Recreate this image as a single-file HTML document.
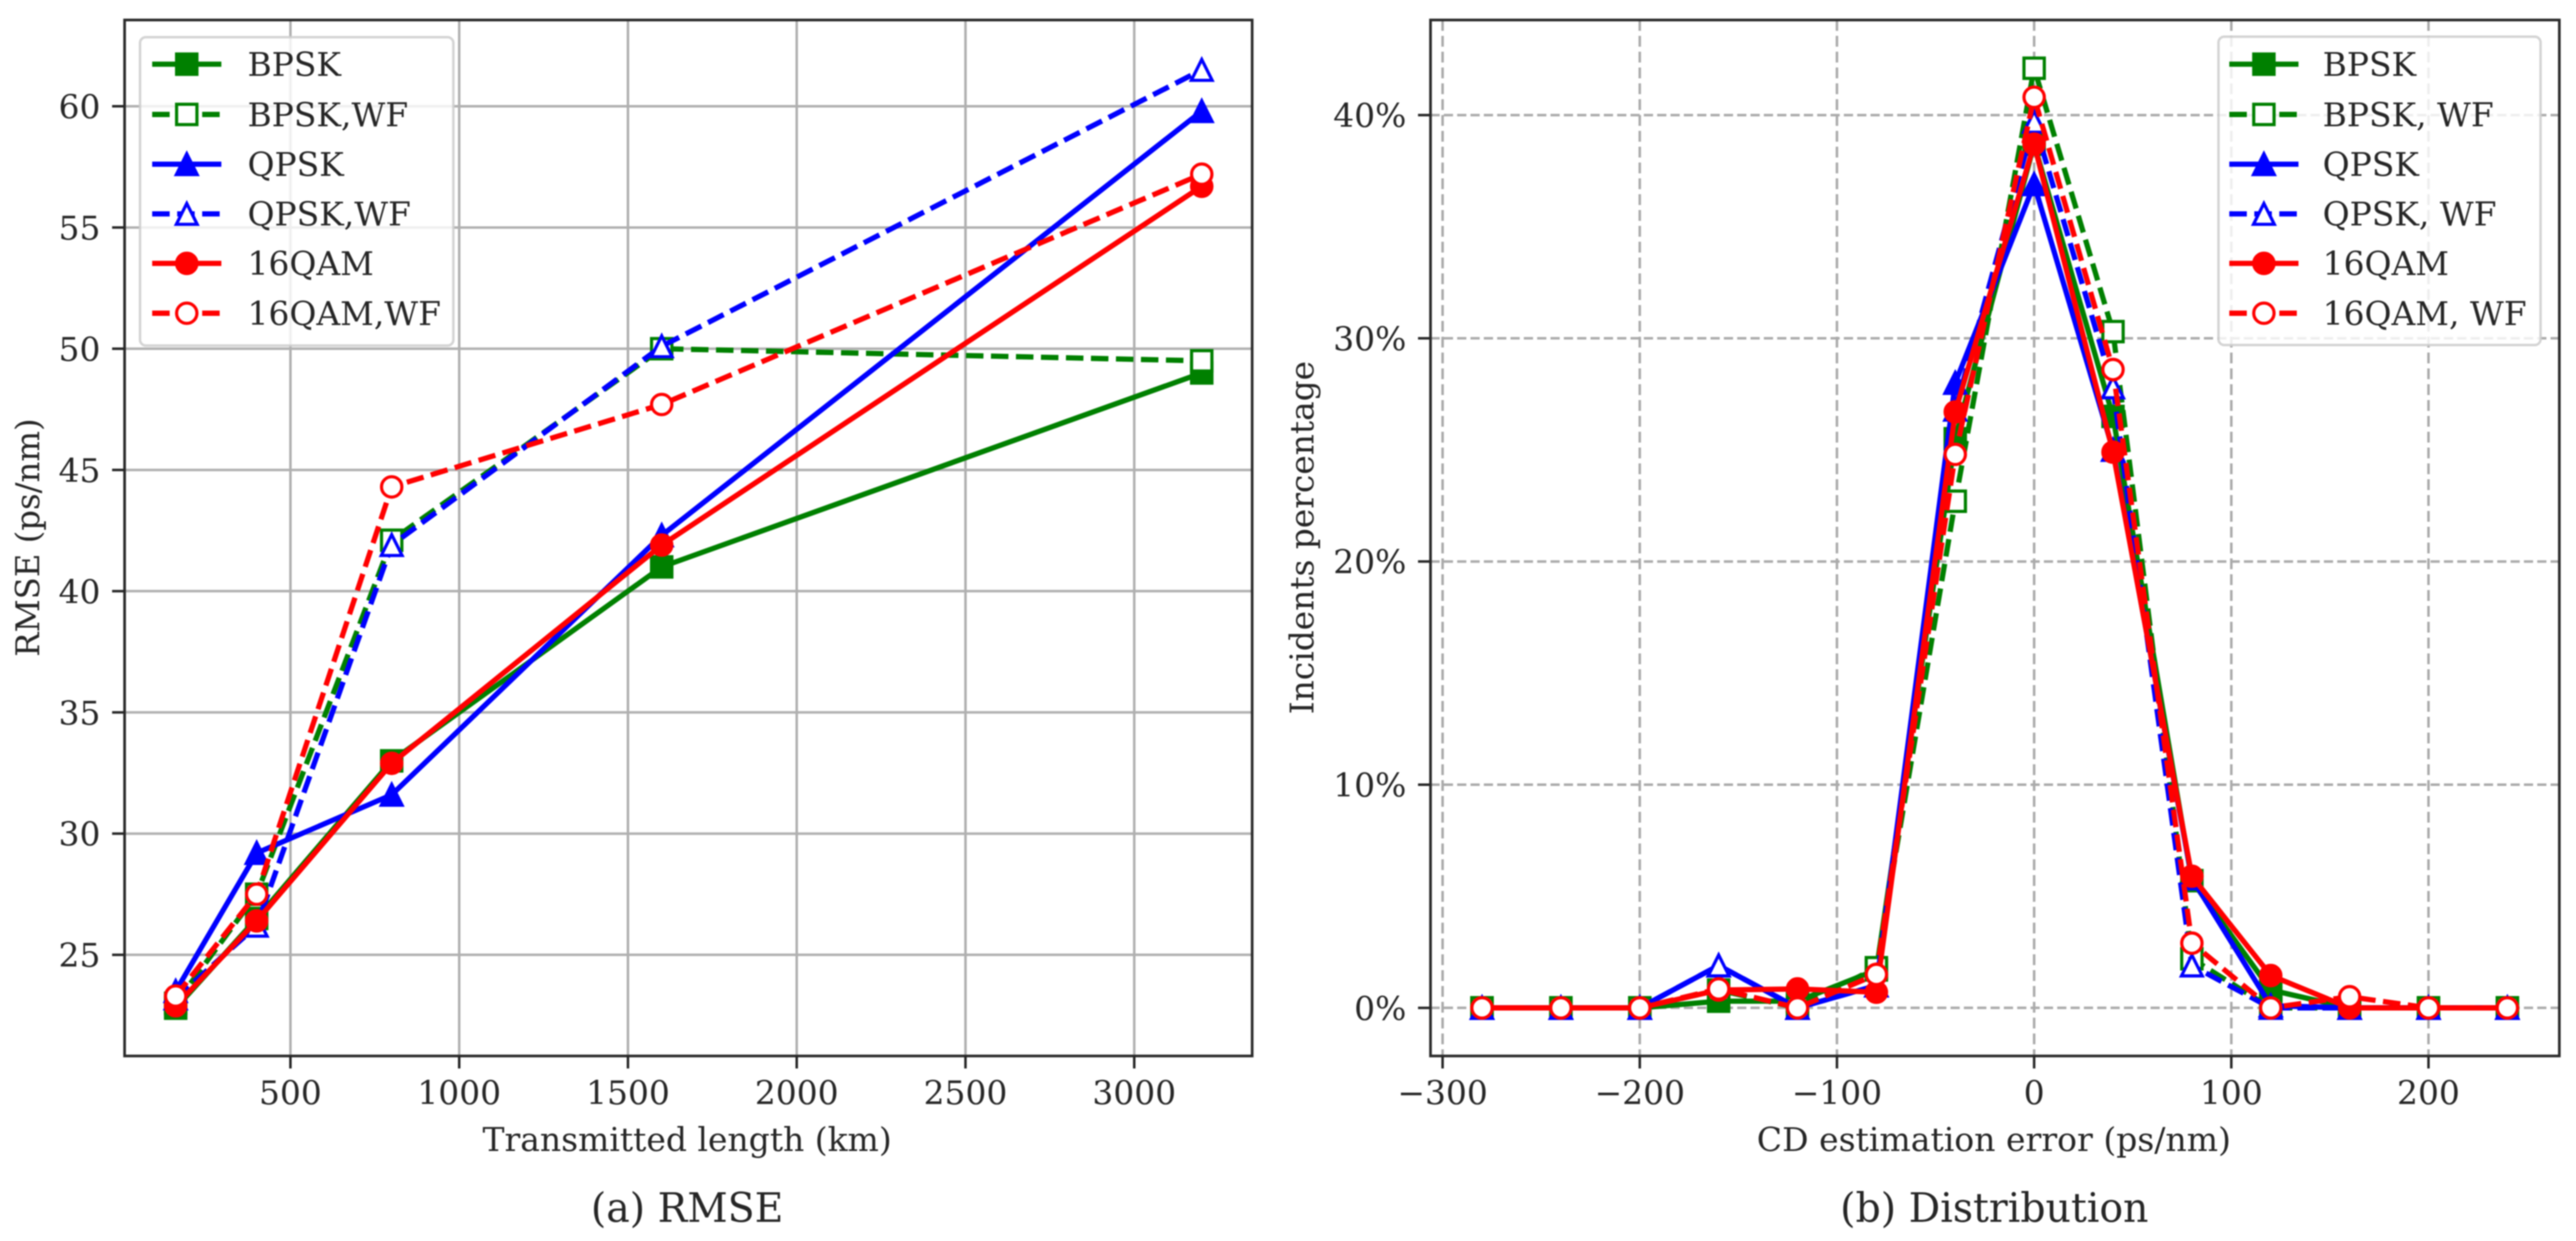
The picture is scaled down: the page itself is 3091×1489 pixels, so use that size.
<!DOCTYPE html>
<html lang="en">
<head>
<meta charset="utf-8">
<title>RMSE and Distribution charts</title>
<style>
html,body{margin:0;padding:0;background:#fff;}
svg{display:block;filter:blur(0.7px);}
text{font-family:"DejaVu Serif","Liberation Serif",serif;fill:#262626;}
</style>
</head>
<body>
<svg id="figure" xmlns="http://www.w3.org/2000/svg" width="3091" height="1489" viewBox="0 0 3091 1489"></svg>
<script>
/* Panel (a) data */
const rmseLengths = [160, 400, 800, 1600, 3200];
const rmseBpsk = [22.8, 26.5, 33.0, 41.0, 49.0];
const rmseBpskWf = [23.0, 27.5, 42.1, 50.0, 49.5];
const rmseQpsk = [23.5, 29.2, 31.6, 42.3, 59.8];
const rmseQpskWf = [23.2, 26.2, 41.9, 50.1, 61.5];
const rmse16qam = [22.9, 26.4, 32.9, 41.9, 56.7];
const rmse16qamWf = [23.3, 27.5, 44.3, 47.7, 57.2];
const rmseXTicks = [500, 1000, 1500, 2000, 2500, 3000];
const rmseYTicks = [25, 30, 35, 40, 45, 50, 55, 60];

/* Panel (b) data */
const distErrors = [-280, -240, -200, -160, -120, -80, -40, 0, 40, 80, 120, 160, 200, 240];
const distBpsk = [0, 0, 0, 0.3, 0.3, 1.7, 25.5, 38.7, 26.5, 5.7, 0.8, 0, 0, 0];
const distBpskWf = [0, 0, 0, 0.8, 0, 1.8, 22.7, 42.1, 30.3, 2.2, 0, 0, 0, 0];
const distQpsk = [0, 0, 0, 1.9, 0, 1.0, 28.0, 36.9, 25.0, 5.8, 0.1, 0, 0, 0];
const distQpskWf = [0, 0, 0, 1.9, 0, 1.0, 26.8, 39.7, 27.8, 1.9, 0, 0, 0, 0];
const dist16qam = [0, 0, 0, 0.8, 0.85, 0.7, 26.7, 38.7, 24.9, 5.9, 1.45, 0, 0, 0];
const dist16qamWf = [0, 0, 0, 0.85, 0, 1.5, 24.8, 40.8, 28.6, 2.9, 0, 0.5, 0, 0];
const distXTicks = [-300, -200, -100, 0, 100, 200];
const distYTicks = [0, 10, 20, 30, 40];

/* Labels */
const rmseLegendLabels = ['BPSK', 'BPSK,WF', 'QPSK', 'QPSK,WF', '16QAM', '16QAM,WF'];
const distLegendLabels = ['BPSK', 'BPSK, WF', 'QPSK', 'QPSK, WF', '16QAM', '16QAM, WF'];

/* Axis functions */
function xA(v) { return 348.5 + (v - 500) * 0.405; }
function yA(v) { return 127.5 + (60 - v) * 29.09; }
function xB(v) { return 2440.8 + v * 2.366; }
function yB(v) { return 1209.3 - v * 26.78; }

const NS = 'http://www.w3.org/2000/svg';
const root = document.getElementById('figure');
const INK = '#262626';
const LW = 6.3;
const DASH = '21 9';

function mk(parent, tag, attrs, name, interactable) {
  const el = document.createElementNS(NS, tag);
  for (const k in attrs) el.setAttribute(k, attrs[k]);
  
  
  parent.appendChild(el);
  return el;
}

function label(parent, str, x, y, size, anchor, name, extra) {
  const attrs = Object.assign({x: x, y: y, 'font-size': size, 'text-anchor': anchor}, extra || {});
  const t = mk(parent, 'text', attrs, name, false);
  t.textContent = str;
  return t;
}

function drawMarker(parent, kind, cx, cy, color, hollow, name) {
  const fill = hollow ? '#fff' : color;
  const common = {fill: fill, stroke: color, 'stroke-width': 3.8};
  if (kind === 'square') {
    return mk(parent, 'rect', Object.assign({x: cx - 12.2, y: cy - 12.2, width: 24.4, height: 24.4}, common), name, false);
  }
  if (kind === 'circle') {
    return mk(parent, 'circle', Object.assign({cx: cx, cy: cy, r: 12.2}, common), name, false);
  }
  const pts = cx + ',' + (cy - 12.5) + ' ' + (cx - 12.5) + ',' + (cy + 12.5) + ' ' + (cx + 12.5) + ',' + (cy + 12.5);
  return mk(parent, 'polygon', Object.assign({points: pts}, common), name, false);
}

function drawSeries(parent, xs, ys, xf, yf, style, name) {
  const g = mk(parent, 'g', {}, name, false);
  const pts = xs.map(function (x, i) { return xf(x).toFixed(2) + ',' + yf(ys[i]).toFixed(2); }).join(' ');
  const attrs = {points: pts, fill: 'none', stroke: style.color, 'stroke-width': LW, 'stroke-linejoin': 'round'};
  if (style.dashed) attrs['stroke-dasharray'] = DASH;
  mk(g, 'polyline', attrs, name + '-line', false);
  xs.forEach(function (x, i) {
    drawMarker(g, style.marker, xf(x), yf(ys[i]), style.color, style.dashed, name + '-point-' + i);
  });
}

const styles = [
  {color: '#008000', marker: 'square', dashed: false},
  {color: '#008000', marker: 'square', dashed: true},
  {color: '#0000ff', marker: 'triangle', dashed: false},
  {color: '#0000ff', marker: 'triangle', dashed: true},
  {color: '#ff0000', marker: 'circle', dashed: false},
  {color: '#ff0000', marker: 'circle', dashed: true}
];

function drawLegend(parent, box, labels, name) {
  const g = mk(parent, 'g', {}, name, false);
  mk(g, 'rect', {x: box.x, y: box.y, width: box.w, height: box.h, rx: 7, ry: 7,
    fill: 'rgba(255,255,255,0.8)', stroke: 'rgba(204,204,204,0.85)', 'stroke-width': 3}, name + '-frame', false);
  const rowY = [77, 137.3, 197, 256.6, 316, 375.8];
  labels.forEach(function (txt, i) {
    const st = styles[i];
    const entry = mk(g, 'g', {}, name + '-entry-' + i, true);
    const attrs = {x1: box.hx, y1: rowY[i], x2: box.hx + 83, y2: rowY[i], stroke: st.color, 'stroke-width': LW};
    if (st.dashed) attrs['stroke-dasharray'] = DASH;
    mk(entry, 'line', attrs, name + '-handle-' + i, false);
    drawMarker(entry, st.marker, box.hx + 41.5, rowY[i], st.color, st.dashed, name + '-marker-' + i);
    label(entry, txt, box.tx, rowY[i] + 14, 39.5, 'start', name + '-label-' + i);
  });
}

function drawPanel(cfg) {
  const p = mk(root, 'g', {}, cfg.name, false);
  const grid = mk(p, 'g', {}, cfg.name + '-grid', false);
  cfg.xTicks.forEach(function (v) {
    const attrs = {x1: cfg.xf(v), x2: cfg.xf(v), y1: cfg.top, y2: cfg.bottom, stroke: cfg.gridColor, 'stroke-width': 3};
    if (cfg.gridDashV) attrs['stroke-dasharray'] = cfg.gridDashV;
    mk(grid, 'line', attrs, 'x-gridline-' + v, false);
  });
  cfg.yTicks.forEach(function (v) {
    const attrs = {x1: cfg.left, x2: cfg.right, y1: cfg.yf(v), y2: cfg.yf(v), stroke: cfg.gridColor, 'stroke-width': 3};
    if (cfg.gridDashH) attrs['stroke-dasharray'] = cfg.gridDashH;
    mk(grid, 'line', attrs, 'y-gridline-' + v, false);
  });

  cfg.series.forEach(function (ys, i) {
    drawSeries(p, cfg.xs, ys, cfg.xf, cfg.yf, styles[i], cfg.seriesNames[i]);
  });

  mk(p, 'rect', {x: cfg.left, y: cfg.top, width: cfg.right - cfg.left, height: cfg.bottom - cfg.top,
    fill: 'none', stroke: '#2a2a2a', 'stroke-width': 3.2}, cfg.name + '-spines', false);

  cfg.xTicks.forEach(function (v) {
    mk(p, 'line', {x1: cfg.xf(v), x2: cfg.xf(v), y1: cfg.bottom, y2: cfg.bottom + 15, stroke: INK, 'stroke-width': 3}, 'x-tick-' + v, false);
    const s = v < 0 ? '\u2212' + Math.abs(v) : String(v);
    label(p, s, cfg.xf(v), 1325, 39.5, 'middle', 'x-tick-label-' + v);
  });
  cfg.yTicks.forEach(function (v) {
    mk(p, 'line', {x1: cfg.left - 15, x2: cfg.left, y1: cfg.yf(v), y2: cfg.yf(v), stroke: INK, 'stroke-width': 3}, 'y-tick-' + v, false);
    label(p, v + cfg.ySuffix, cfg.left - 29, cfg.yf(v) + 14.5, 39.5, 'end', 'y-tick-label-' + v);
  });

  label(p, cfg.xTitle, cfg.xTitleX, 1381, 39.5, 'start', 'x-axis-title',
    {textLength: cfg.xTitleLen, lengthAdjust: 'spacingAndGlyphs'});
  label(p, cfg.yTitle, 0, 0, 39.5, 'middle', 'y-axis-title',
    {transform: 'translate(' + cfg.yTitleX + ',645) rotate(-90)', textLength: cfg.yTitleLen, lengthAdjust: 'spacingAndGlyphs'});
  label(p, cfg.caption, cfg.captionX, 1466, 49, 'start', 'panel-caption',
    {textLength: cfg.captionLen, lengthAdjust: 'spacingAndGlyphs'});

  drawLegend(p, cfg.legend, cfg.legendLabels, cfg.name + '-legend');
}

drawPanel({
  name: 'rmse-panel',
  left: 149.5, right: 1502.5, top: 24, bottom: 1267,
  xf: xA, yf: yA, xs: rmseLengths,
  xTicks: rmseXTicks, yTicks: rmseYTicks, ySuffix: '',
  gridColor: '#b0b0b0',
  series: [rmseBpsk, rmseBpskWf, rmseQpsk, rmseQpskWf, rmse16qam, rmse16qamWf],
  seriesNames: ['series-bpsk', 'series-bpsk-wf', 'series-qpsk', 'series-qpsk-wf', 'series-16qam', 'series-16qam-wf'],
  xTitle: 'Transmitted length (km)', xTitleX: 579, xTitleLen: 491,
  yTitle: 'RMSE (ps/nm)', yTitleX: 47, yTitleLen: 286,
  caption: '(a) RMSE', captionX: 709, captionLen: 231,
  legend: {x: 168, y: 44.6, w: 376, h: 370, hx: 182.6, tx: 297},
  legendLabels: rmseLegendLabels
});

drawPanel({
  name: 'distribution-panel',
  left: 1716.5, right: 3071, top: 24, bottom: 1267,
  xf: xB, yf: yB, xs: distErrors,
  xTicks: distXTicks, yTicks: distYTicks, ySuffix: '%',
  gridColor: '#aaaaaa', gridDashV: '13 6', gridDashH: '11 5',
  series: [distBpsk, distBpskWf, distQpsk, distQpskWf, dist16qam, dist16qamWf],
  seriesNames: ['series-bpsk', 'series-bpsk-wf', 'series-qpsk', 'series-qpsk-wf', 'series-16qam', 'series-16qam-wf'],
  xTitle: 'CD estimation error (ps/nm)', xTitleX: 2108, xTitleLen: 569,
  yTitle: 'Incidents percentage', yTitleX: 1576, yTitleLen: 424,
  caption: '(b) Distribution', captionX: 2208, captionLen: 370,
  legend: {x: 2662, y: 44, w: 386.5, h: 370, hx: 2675, tx: 2787},
  legendLabels: distLegendLabels
});
</script>
</body>
</html>
